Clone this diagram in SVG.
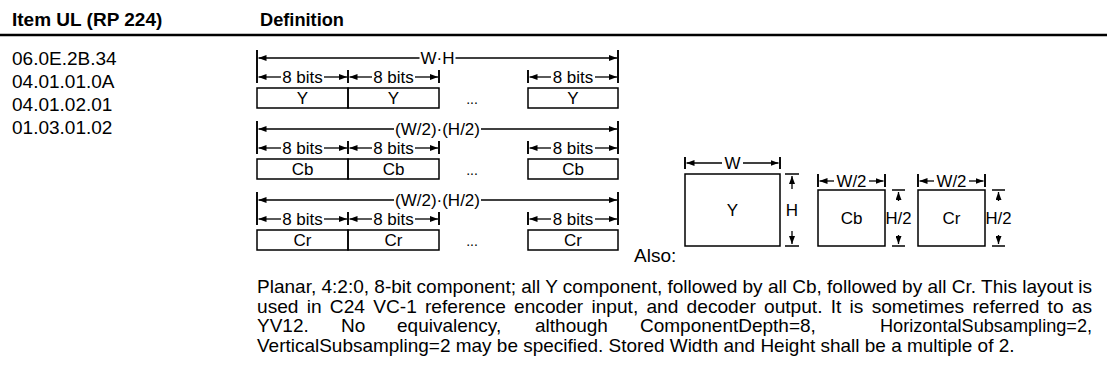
<svg xmlns="http://www.w3.org/2000/svg" width="1107" height="387" viewBox="0 0 1107 387">
<defs>
<marker id="ah" viewBox="0 0 8 6" refX="8" refY="3" markerWidth="8" markerHeight="6" orient="auto" markerUnits="userSpaceOnUse"><path d="M0,0L8,3L0,6z" fill="#000"/></marker>
</defs>
<style>
text{font-family:"Liberation Sans",Arial,sans-serif;fill:#000}
.h{font-weight:bold;font-size:19px}
.b{font-size:19px}
.d{font-size:17px}
.c{text-anchor:middle}
.dots{font-size:14px;text-anchor:middle}
.bar{stroke:#000;stroke-width:1.9}
.ln{stroke:#000;stroke-width:1.3;fill:none;marker-end:url(#ah)}
.box{fill:none;stroke:#000;stroke-width:1.5}
.tick{stroke:#000;stroke-width:1.5}
</style>
<rect width="1107" height="387" fill="#fff"/>

<g id="header">
<text class="h" x="12" y="26">Item UL (RP 224)</text>
<text class="h" x="260" y="26" textLength="84" lengthAdjust="spacingAndGlyphs">Definition</text>
<line x1="0" y1="35" x2="1107" y2="35" stroke="#000" stroke-width="2.5"/>
</g>

<g id="ul-list">
<text class="b" x="12" y="65">06.0E.2B.34</text>
<text class="b" x="12" y="88">04.01.01.0A</text>
<text class="b" x="12" y="111">04.01.02.01</text>
<text class="b" x="12" y="134">01.03.01.02</text>
</g>

<g id="y-field">
<line class="bar" x1="257" y1="50" x2="257" y2="83"/><line class="bar" x1="618" y1="50" x2="618" y2="83"/>
<line class="bar" x1="348" y1="70" x2="348" y2="83"/><line class="bar" x1="439" y1="70" x2="439" y2="83"/><line class="bar" x1="528" y1="70" x2="528" y2="83"/>
<text class="d c" x="437.5" y="64">W·H</text>
<text class="d c" x="302.5" y="83">8 bits</text><text class="d c" x="393.5" y="83">8 bits</text><text class="d c" x="573" y="83">8 bits</text>
<rect class="box" x="257" y="88" width="91" height="20"/><rect class="box" x="348" y="88" width="91" height="20"/><rect class="box" x="528" y="88" width="90" height="20"/>
<text class="d c" x="302.5" y="104">Y</text><text class="d c" x="393.5" y="104">Y</text><text class="d c" x="573" y="104">Y</text>
<text class="dots" x="472" y="104">...</text>
</g>

<g id="cb-field" transform="translate(0,71)">
<line class="bar" x1="257" y1="50" x2="257" y2="83"/><line class="bar" x1="618" y1="50" x2="618" y2="83"/>
<line class="bar" x1="348" y1="70" x2="348" y2="83"/><line class="bar" x1="439" y1="70" x2="439" y2="83"/><line class="bar" x1="528" y1="70" x2="528" y2="83"/>
<text class="d c" x="437.5" y="64">(W/2)·(H/2)</text>
<text class="d c" x="302.5" y="83">8 bits</text><text class="d c" x="393.5" y="83">8 bits</text><text class="d c" x="573" y="83">8 bits</text>
<rect class="box" x="257" y="88" width="91" height="20"/><rect class="box" x="348" y="88" width="91" height="20"/><rect class="box" x="528" y="88" width="90" height="20"/>
<text class="d c" x="302.5" y="104">Cb</text><text class="d c" x="393.5" y="104">Cb</text><text class="d c" x="573" y="104">Cb</text>
<text class="dots" x="472" y="104">...</text>
</g>

<g id="cr-field" transform="translate(0,142)">
<line class="bar" x1="257" y1="50" x2="257" y2="83"/><line class="bar" x1="618" y1="50" x2="618" y2="83"/>
<line class="bar" x1="348" y1="70" x2="348" y2="83"/><line class="bar" x1="439" y1="70" x2="439" y2="83"/><line class="bar" x1="528" y1="70" x2="528" y2="83"/>
<text class="d c" x="437.5" y="64">(W/2)·(H/2)</text>
<text class="d c" x="302.5" y="83">8 bits</text><text class="d c" x="393.5" y="83">8 bits</text><text class="d c" x="573" y="83">8 bits</text>
<rect class="box" x="257" y="88" width="91" height="20"/><rect class="box" x="348" y="88" width="91" height="20"/><rect class="box" x="528" y="88" width="90" height="20"/>
<text class="d c" x="302.5" y="104">Cr</text><text class="d c" x="393.5" y="104">Cr</text><text class="d c" x="573" y="104">Cr</text>
<text class="dots" x="472" y="104">...</text>
</g>

<text class="b" x="634" y="262">Also:</text>

<g id="y-plane">
<rect class="box" x="685" y="174" width="95" height="72"/>
<text class="d c" x="732.5" y="216">Y</text>
<line class="bar" x1="685" y1="157" x2="685" y2="169"/><line class="bar" x1="780" y1="157" x2="780" y2="169"/>
<text class="d c" x="732.5" y="169">W</text>
<line class="tick" x1="785" y1="174" x2="799" y2="174"/><line class="tick" x1="785" y1="246" x2="799" y2="246"/>
<text class="d c" x="792" y="216">H</text>
</g>

<g id="cb-plane">
<rect class="box" x="818" y="190" width="67" height="56"/>
<text class="d c" x="851.5" y="224">Cb</text>
<line class="bar" x1="818" y1="174" x2="818" y2="187"/><line class="bar" x1="885" y1="174" x2="885" y2="187"/>
<text class="d c" x="851.5" y="187" textLength="30" lengthAdjust="spacingAndGlyphs">W/2</text>
<line class="tick" x1="892" y1="190" x2="905" y2="190"/><line class="tick" x1="892" y1="246" x2="905" y2="246"/>
<text class="d c" x="898.5" y="224" textLength="26" lengthAdjust="spacingAndGlyphs">H/2</text>
</g>

<g id="cr-plane">
<rect class="box" x="918" y="190" width="67" height="56"/>
<text class="d c" x="951.5" y="224">Cr</text>
<line class="bar" x1="918" y1="174" x2="918" y2="187"/><line class="bar" x1="985" y1="174" x2="985" y2="187"/>
<text class="d c" x="951.5" y="187" textLength="30" lengthAdjust="spacingAndGlyphs">W/2</text>
<line class="tick" x1="992" y1="190" x2="1005" y2="190"/><line class="tick" x1="992" y1="246" x2="1005" y2="246"/>
<text class="d c" x="998.5" y="224" textLength="26" lengthAdjust="spacingAndGlyphs">H/2</text>
</g>

<g id="connectors">
<g>
<line class="ln" x1="419.5" y1="58" x2="258.5" y2="58"/><line class="ln" x1="455.5" y1="58" x2="617" y2="58"/>
<line class="ln" x1="281" y1="77" x2="258.5" y2="77"/><line class="ln" x1="324" y1="77" x2="347" y2="77"/>
<line class="ln" x1="372" y1="77" x2="349.5" y2="77"/><line class="ln" x1="415" y1="77" x2="438" y2="77"/>
<line class="ln" x1="551" y1="77" x2="529.5" y2="77"/><line class="ln" x1="595" y1="77" x2="617" y2="77"/>
</g>
<g transform="translate(0,71)">
<line class="ln" x1="394" y1="58" x2="258.5" y2="58"/><line class="ln" x1="481" y1="58" x2="617" y2="58"/>
<line class="ln" x1="281" y1="77" x2="258.5" y2="77"/><line class="ln" x1="324" y1="77" x2="347" y2="77"/>
<line class="ln" x1="372" y1="77" x2="349.5" y2="77"/><line class="ln" x1="415" y1="77" x2="438" y2="77"/>
<line class="ln" x1="551" y1="77" x2="529.5" y2="77"/><line class="ln" x1="595" y1="77" x2="617" y2="77"/>
</g>
<g transform="translate(0,142)">
<line class="ln" x1="394" y1="58" x2="258.5" y2="58"/><line class="ln" x1="481" y1="58" x2="617" y2="58"/>
<line class="ln" x1="281" y1="77" x2="258.5" y2="77"/><line class="ln" x1="324" y1="77" x2="347" y2="77"/>
<line class="ln" x1="372" y1="77" x2="349.5" y2="77"/><line class="ln" x1="415" y1="77" x2="438" y2="77"/>
<line class="ln" x1="551" y1="77" x2="529.5" y2="77"/><line class="ln" x1="595" y1="77" x2="617" y2="77"/>
</g>
<line class="ln" x1="722" y1="163" x2="686.5" y2="163"/><line class="ln" x1="743" y1="163" x2="778.5" y2="163"/>
<line class="ln" x1="792" y1="189" x2="792" y2="176"/><line class="ln" x1="792" y1="231" x2="792" y2="244"/>
<line class="ln" x1="834" y1="181" x2="819.5" y2="181"/><line class="ln" x1="869" y1="181" x2="883.5" y2="181"/>
<line class="ln" x1="898.5" y1="201" x2="898.5" y2="192"/><line class="ln" x1="898.5" y1="235" x2="898.5" y2="244"/>
<line class="ln" x1="934" y1="181" x2="919.5" y2="181"/><line class="ln" x1="969" y1="181" x2="983.5" y2="181"/>
<line class="ln" x1="998.5" y1="201" x2="998.5" y2="192"/><line class="ln" x1="998.5" y1="235" x2="998.5" y2="244"/>
</g>

<g id="description">
<text class="b" x="257" y="293" textLength="835" lengthAdjust="spacingAndGlyphs">Planar, 4:2:0, 8-bit component; all Y component, followed by all Cb, followed by all Cr. This layout is</text>
<text class="b" x="257" y="312.5" word-spacing="2.9" textLength="835" lengthAdjust="spacingAndGlyphs">used in C24 VC-1 reference encoder input, and decoder output. It is sometimes referred to as</text>
<text class="b" x="257" y="332">YV12.</text>
<text class="b" x="341" y="332">No</text>
<text class="b" x="397" y="332">equivalency,</text>
<text class="b" x="535" y="332">although</text>
<text class="b" x="640" y="332">ComponentDepth=8,</text>
<text class="b" x="880" y="332" textLength="212" lengthAdjust="spacingAndGlyphs">HorizontalSubsampling=2,</text>
<text class="b" x="257" y="351.5" textLength="757.5" lengthAdjust="spacingAndGlyphs">VerticalSubsampling=2 may be specified. Stored Width and Height shall be a multiple of 2.</text>
</g>
</svg>
